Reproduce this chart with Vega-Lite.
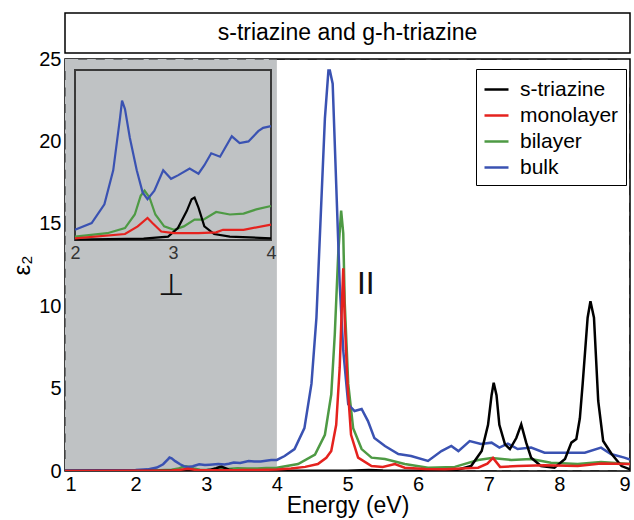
{
  "$schema": "https://vega.github.io/schema/vega-lite/v6.json",
  "padding": {"left": 10, "top": 12, "right": 0, "bottom": 0},
  "background": "white",
  "bounds": "flush",
  "spacing": 6,
  "config": {
    "view": {"stroke": "black", "strokeWidth": 1.5},
    "style": {"cell": {"stroke": "black", "strokeWidth": 1.5}},
    "font": "Liberation Sans",
    "axis": {"grid": false, "domain": false, "labelFont": "Liberation Sans", "titleFont": "Liberation Sans", "labelColor": "black", "titleColor": "black", "titleFontWeight": "normal"}
  },
  "datasets": {
    "xMajor": [{"v": 2}, {"v": 3}, {"v": 4}, {"v": 5}, {"v": 6}, {"v": 7}, {"v": 8}],
    "xMinor": [{"v": 1.25}, {"v": 1.5}, {"v": 1.75}, {"v": 2.25}, {"v": 2.5}, {"v": 2.75}, {"v": 3.25}, {"v": 3.5}, {"v": 3.75}, {"v": 4.25}, {"v": 4.5}, {"v": 4.75}, {"v": 5.25}, {"v": 5.5}, {"v": 5.75}, {"v": 6.25}, {"v": 6.5}, {"v": 6.75}, {"v": 7.25}, {"v": 7.5}, {"v": 7.75}, {"v": 8.25}, {"v": 8.5}, {"v": 8.75}],
    "yMajor": [{"v": 5}, {"v": 10}, {"v": 15}, {"v": 20}],
    "yMinor": [{"v": 1}, {"v": 2}, {"v": 3}, {"v": 4}, {"v": 6}, {"v": 7}, {"v": 8}, {"v": 9}, {"v": 11}, {"v": 12}, {"v": 13}, {"v": 14}, {"v": 16}, {"v": 17}, {"v": 18}, {"v": 19}, {"v": 21}, {"v": 22}, {"v": 23}, {"v": 24}],
    "insetX": [{"v": 2.25}, {"v": 2.5}, {"v": 2.75}, {"v": 3}, {"v": 3.25}, {"v": 3.5}, {"v": 3.75}],
    "insetY": [{"v": 0.1}, {"v": 0.2}, {"v": 0.3}, {"v": 0.4}, {"v": 0.5}, {"v": 0.6}, {"v": 0.7}, {"v": 0.8}, {"v": 0.9}],
    "spectra": [
      {"series": "s-triazine", "x": 1.0, "y": 0},
      {"series": "s-triazine", "x": 2.0, "y": 0.003},
      {"series": "s-triazine", "x": 2.7, "y": 0.008},
      {"series": "s-triazine", "x": 2.95, "y": 0.02},
      {"series": "s-triazine", "x": 3.05, "y": 0.07},
      {"series": "s-triazine", "x": 3.14, "y": 0.17},
      {"series": "s-triazine", "x": 3.19, "y": 0.24},
      {"series": "s-triazine", "x": 3.22, "y": 0.25},
      {"series": "s-triazine", "x": 3.26, "y": 0.19},
      {"series": "s-triazine", "x": 3.32, "y": 0.08},
      {"series": "s-triazine", "x": 3.42, "y": 0.035},
      {"series": "s-triazine", "x": 3.58, "y": 0.02},
      {"series": "s-triazine", "x": 4.0, "y": 0.01},
      {"series": "s-triazine", "x": 4.5, "y": 0.01},
      {"series": "s-triazine", "x": 5.0, "y": 0.02},
      {"series": "s-triazine", "x": 5.3, "y": 0.06},
      {"series": "s-triazine", "x": 5.5, "y": 0.03},
      {"series": "s-triazine", "x": 6.0, "y": 0.01},
      {"series": "s-triazine", "x": 6.3, "y": 0.02},
      {"series": "s-triazine", "x": 6.56, "y": 0.08},
      {"series": "s-triazine", "x": 6.75, "y": 0.3},
      {"series": "s-triazine", "x": 6.9, "y": 1.21},
      {"series": "s-triazine", "x": 6.99, "y": 2.8},
      {"series": "s-triazine", "x": 7.04, "y": 4.6},
      {"series": "s-triazine", "x": 7.07, "y": 5.36},
      {"series": "s-triazine", "x": 7.11, "y": 4.6},
      {"series": "s-triazine", "x": 7.15, "y": 2.8},
      {"series": "s-triazine", "x": 7.23, "y": 1.62},
      {"series": "s-triazine", "x": 7.3, "y": 1.33},
      {"series": "s-triazine", "x": 7.39, "y": 2.0},
      {"series": "s-triazine", "x": 7.46, "y": 2.83},
      {"series": "s-triazine", "x": 7.53, "y": 1.72},
      {"series": "s-triazine", "x": 7.6, "y": 0.81},
      {"series": "s-triazine", "x": 7.74, "y": 0.3},
      {"series": "s-triazine", "x": 7.93, "y": 0.2},
      {"series": "s-triazine", "x": 8.08, "y": 0.73},
      {"series": "s-triazine", "x": 8.17, "y": 1.72},
      {"series": "s-triazine", "x": 8.24, "y": 1.94},
      {"series": "s-triazine", "x": 8.29, "y": 3.2},
      {"series": "s-triazine", "x": 8.33, "y": 5.3},
      {"series": "s-triazine", "x": 8.4, "y": 9.3},
      {"series": "s-triazine", "x": 8.44, "y": 10.3},
      {"series": "s-triazine", "x": 8.49, "y": 9.3},
      {"series": "s-triazine", "x": 8.55, "y": 4.25},
      {"series": "s-triazine", "x": 8.62, "y": 1.82},
      {"series": "s-triazine", "x": 8.74, "y": 1.03},
      {"series": "s-triazine", "x": 8.88, "y": 0.3},
      {"series": "s-triazine", "x": 9.0, "y": 0.1},

      {"series": "monolayer", "x": 1.0, "y": 0.003},
      {"series": "monolayer", "x": 2.0, "y": 0.01},
      {"series": "monolayer", "x": 2.51, "y": 0.035},
      {"series": "monolayer", "x": 2.64, "y": 0.08},
      {"series": "monolayer", "x": 2.74, "y": 0.13},
      {"series": "monolayer", "x": 2.79, "y": 0.1},
      {"series": "monolayer", "x": 2.88, "y": 0.05},
      {"series": "monolayer", "x": 3.01, "y": 0.04},
      {"series": "monolayer", "x": 3.26, "y": 0.04},
      {"series": "monolayer", "x": 3.44, "y": 0.045},
      {"series": "monolayer", "x": 3.51, "y": 0.06},
      {"series": "monolayer", "x": 3.72, "y": 0.06},
      {"series": "monolayer", "x": 4.0, "y": 0.09},
      {"series": "monolayer", "x": 4.2, "y": 0.15},
      {"series": "monolayer", "x": 4.4, "y": 0.25},
      {"series": "monolayer", "x": 4.58, "y": 0.42},
      {"series": "monolayer", "x": 4.7, "y": 0.8},
      {"series": "monolayer", "x": 4.77, "y": 1.21},
      {"series": "monolayer", "x": 4.84, "y": 2.8},
      {"series": "monolayer", "x": 4.89, "y": 6.3},
      {"series": "monolayer", "x": 4.92, "y": 10.0},
      {"series": "monolayer", "x": 4.94, "y": 12.3},
      {"series": "monolayer", "x": 4.96, "y": 9.3},
      {"series": "monolayer", "x": 5.0, "y": 5.3},
      {"series": "monolayer", "x": 5.05, "y": 2.2},
      {"series": "monolayer", "x": 5.15, "y": 0.81},
      {"series": "monolayer", "x": 5.34, "y": 0.3},
      {"series": "monolayer", "x": 5.5, "y": 0.25},
      {"series": "monolayer", "x": 5.67, "y": 0.42},
      {"series": "monolayer", "x": 5.81, "y": 0.2},
      {"series": "monolayer", "x": 6.1, "y": 0.12},
      {"series": "monolayer", "x": 6.38, "y": 0.1},
      {"series": "monolayer", "x": 6.85, "y": 0.2},
      {"series": "monolayer", "x": 6.98, "y": 0.45},
      {"series": "monolayer", "x": 7.06, "y": 0.79},
      {"series": "monolayer", "x": 7.16, "y": 0.25},
      {"series": "monolayer", "x": 7.41, "y": 0.3},
      {"series": "monolayer", "x": 7.79, "y": 0.35},
      {"series": "monolayer", "x": 8.26, "y": 0.3},
      {"series": "monolayer", "x": 8.59, "y": 0.45},
      {"series": "monolayer", "x": 9.0, "y": 0.42},

      {"series": "bilayer", "x": 1.0, "y": 0.005},
      {"series": "bilayer", "x": 2.0, "y": 0.02},
      {"series": "bilayer", "x": 2.33, "y": 0.04},
      {"series": "bilayer", "x": 2.51, "y": 0.07},
      {"series": "bilayer", "x": 2.61, "y": 0.15},
      {"series": "bilayer", "x": 2.67, "y": 0.26},
      {"series": "bilayer", "x": 2.71, "y": 0.29},
      {"series": "bilayer", "x": 2.76, "y": 0.25},
      {"series": "bilayer", "x": 2.82, "y": 0.15},
      {"series": "bilayer", "x": 2.91, "y": 0.08},
      {"series": "bilayer", "x": 3.01, "y": 0.06},
      {"series": "bilayer", "x": 3.11, "y": 0.08},
      {"series": "bilayer", "x": 3.22, "y": 0.12},
      {"series": "bilayer", "x": 3.31, "y": 0.12},
      {"series": "bilayer", "x": 3.44, "y": 0.165},
      {"series": "bilayer", "x": 3.58, "y": 0.15},
      {"series": "bilayer", "x": 3.72, "y": 0.155},
      {"series": "bilayer", "x": 3.85, "y": 0.18},
      {"series": "bilayer", "x": 4.0, "y": 0.2},
      {"series": "bilayer", "x": 4.3, "y": 0.42},
      {"series": "bilayer", "x": 4.54, "y": 1.0},
      {"series": "bilayer", "x": 4.68, "y": 2.2},
      {"series": "bilayer", "x": 4.77, "y": 4.65},
      {"series": "bilayer", "x": 4.82, "y": 8.3},
      {"series": "bilayer", "x": 4.87, "y": 13.3},
      {"series": "bilayer", "x": 4.91, "y": 15.8},
      {"series": "bilayer", "x": 4.94, "y": 14.4},
      {"series": "bilayer", "x": 4.96, "y": 10.3},
      {"series": "bilayer", "x": 5.01, "y": 5.3},
      {"series": "bilayer", "x": 5.08, "y": 2.6},
      {"series": "bilayer", "x": 5.2, "y": 1.33},
      {"series": "bilayer", "x": 5.34, "y": 0.81},
      {"series": "bilayer", "x": 5.53, "y": 0.73},
      {"series": "bilayer", "x": 5.81, "y": 0.42},
      {"series": "bilayer", "x": 6.14, "y": 0.2},
      {"series": "bilayer", "x": 6.52, "y": 0.25},
      {"series": "bilayer", "x": 6.85, "y": 0.67},
      {"series": "bilayer", "x": 7.04, "y": 0.79},
      {"series": "bilayer", "x": 7.32, "y": 0.67},
      {"series": "bilayer", "x": 7.6, "y": 0.73},
      {"series": "bilayer", "x": 7.88, "y": 0.5},
      {"series": "bilayer", "x": 8.26, "y": 0.42},
      {"series": "bilayer", "x": 8.59, "y": 0.55},
      {"series": "bilayer", "x": 9.0, "y": 0.42},

      {"series": "bulk", "x": 1.0, "y": 0.03},
      {"series": "bulk", "x": 1.5, "y": 0.04},
      {"series": "bulk", "x": 2.0, "y": 0.06},
      {"series": "bulk", "x": 2.17, "y": 0.1},
      {"series": "bulk", "x": 2.3, "y": 0.21},
      {"series": "bulk", "x": 2.39, "y": 0.41},
      {"series": "bulk", "x": 2.46, "y": 0.72},
      {"series": "bulk", "x": 2.48, "y": 0.82},
      {"series": "bulk", "x": 2.51, "y": 0.77},
      {"series": "bulk", "x": 2.56, "y": 0.6},
      {"series": "bulk", "x": 2.63, "y": 0.41},
      {"series": "bulk", "x": 2.69, "y": 0.28},
      {"series": "bulk", "x": 2.74, "y": 0.24},
      {"series": "bulk", "x": 2.81, "y": 0.29},
      {"series": "bulk", "x": 2.9, "y": 0.41},
      {"series": "bulk", "x": 2.98, "y": 0.36},
      {"series": "bulk", "x": 3.05, "y": 0.38},
      {"series": "bulk", "x": 3.17, "y": 0.42},
      {"series": "bulk", "x": 3.26, "y": 0.39},
      {"series": "bulk", "x": 3.32, "y": 0.44},
      {"series": "bulk", "x": 3.39, "y": 0.51},
      {"series": "bulk", "x": 3.48, "y": 0.49},
      {"series": "bulk", "x": 3.6, "y": 0.61},
      {"series": "bulk", "x": 3.68, "y": 0.57},
      {"series": "bulk", "x": 3.77, "y": 0.58},
      {"series": "bulk", "x": 3.87, "y": 0.64},
      {"series": "bulk", "x": 3.92, "y": 0.66},
      {"series": "bulk", "x": 4.0, "y": 0.67},
      {"series": "bulk", "x": 4.11, "y": 0.91},
      {"series": "bulk", "x": 4.25, "y": 1.33},
      {"series": "bulk", "x": 4.39, "y": 2.6},
      {"series": "bulk", "x": 4.49, "y": 5.3},
      {"series": "bulk", "x": 4.56, "y": 9.3},
      {"series": "bulk", "x": 4.63, "y": 16.4},
      {"series": "bulk", "x": 4.68, "y": 21.4},
      {"series": "bulk", "x": 4.73, "y": 24.3},
      {"series": "bulk", "x": 4.75, "y": 24.3},
      {"series": "bulk", "x": 4.79, "y": 23.5},
      {"series": "bulk", "x": 4.84, "y": 17.4},
      {"series": "bulk", "x": 4.89, "y": 11.3},
      {"series": "bulk", "x": 4.94, "y": 7.3},
      {"series": "bulk", "x": 5.01, "y": 4.05},
      {"series": "bulk", "x": 5.1, "y": 3.64},
      {"series": "bulk", "x": 5.2, "y": 3.76},
      {"series": "bulk", "x": 5.29, "y": 3.03},
      {"series": "bulk", "x": 5.38, "y": 2.0},
      {"series": "bulk", "x": 5.53, "y": 1.52},
      {"series": "bulk", "x": 5.72, "y": 1.03},
      {"series": "bulk", "x": 5.9, "y": 0.91},
      {"series": "bulk", "x": 6.14, "y": 0.61},
      {"series": "bulk", "x": 6.33, "y": 1.21},
      {"series": "bulk", "x": 6.47, "y": 1.52},
      {"series": "bulk", "x": 6.57, "y": 1.21},
      {"series": "bulk", "x": 6.73, "y": 1.82},
      {"series": "bulk", "x": 6.89, "y": 1.64},
      {"series": "bulk", "x": 7.04, "y": 1.72},
      {"series": "bulk", "x": 7.15, "y": 1.42},
      {"series": "bulk", "x": 7.27, "y": 1.66},
      {"series": "bulk", "x": 7.41, "y": 1.33},
      {"series": "bulk", "x": 7.6, "y": 1.42},
      {"series": "bulk", "x": 7.79, "y": 1.11},
      {"series": "bulk", "x": 8.02, "y": 1.11},
      {"series": "bulk", "x": 8.36, "y": 1.11},
      {"series": "bulk", "x": 8.59, "y": 1.42},
      {"series": "bulk", "x": 8.73, "y": 1.03},
      {"series": "bulk", "x": 8.92, "y": 0.81},
      {"series": "bulk", "x": 9.0, "y": 0.7}
    ]
  },
  "vconcat": [
    {
      "width": 565,
      "height": 40,
      "view": {"stroke": "black", "strokeWidth": 1.5},
      "data": {"values": [{"label": "s-triazine and g-h-triazine"}]},
      "mark": {"type": "text", "fontSize": 23, "font": "Liberation Sans", "color": "black"},
      "encoding": {"text": {"field": "label"}}
    },
    {
      "width": 565,
      "height": 412,
      "view": {"stroke": "black", "strokeWidth": 1.5},
      "resolve": {"scale": {"x": "independent", "y": "independent"}},
      "layer": [
        {
          "data": {"values": [{"start": 1, "end": 4, "low": 0, "high": 25}]},
          "mark": {"type": "rect", "fill": "#bfc2c4"},
          "encoding": {
            "x": {"field": "start", "type": "quantitative", "scale": {"domain": [1, 9], "nice": false, "zero": false},
                  "axis": {"orient": "bottom", "zindex": 1, "values": [1,2,3,4,5,6,7,8,9], "ticks": false, "labelPadding": 3, "labelFontSize": 20, "title": "Energy (eV)", "titleFontSize": 23, "titlePadding": 0}},
            "x2": {"field": "end"},
            "y": {"field": "low", "type": "quantitative", "scale": {"domain": [0, 25], "nice": false},
                  "axis": {"orient": "left", "zindex": 1, "values": [0,5,10,15,20,25], "ticks": false, "labelPadding": 4, "labelFontSize": 20, "title": "ε₂", "titleFontSize": 24, "titlePadding": 4}},
            "y2": {"field": "high"}
          }
        },
        {
          "data": {"name": "xMajor"},
          "mark": {"type": "tick", "orient": "horizontal", "size": 16, "thickness": 1.4, "color": "black", "clip": true},
          "encoding": {
            "x": {"field": "v", "type": "quantitative", "scale": {"domain": [1, 9], "nice": false, "zero": false}, "axis": null},
            "y": {"datum": 0, "type": "quantitative", "scale": {"domain": [0, 25], "nice": false}, "axis": null}
          }
        },
        {
          "data": {"name": "xMajor"},
          "mark": {"type": "tick", "orient": "horizontal", "size": 16, "thickness": 1.4, "color": "black", "clip": true},
          "encoding": {
            "x": {"field": "v", "type": "quantitative", "scale": {"domain": [1, 9], "nice": false, "zero": false}, "axis": null},
            "y": {"datum": 25, "type": "quantitative", "scale": {"domain": [0, 25], "nice": false}, "axis": null}
          }
        },
        {
          "data": {"name": "xMinor"},
          "mark": {"type": "tick", "orient": "horizontal", "size": 9, "thickness": 1.2, "color": "black", "clip": true},
          "encoding": {
            "x": {"field": "v", "type": "quantitative", "scale": {"domain": [1, 9], "nice": false, "zero": false}, "axis": null},
            "y": {"datum": 0, "type": "quantitative", "scale": {"domain": [0, 25], "nice": false}, "axis": null}
          }
        },
        {
          "data": {"name": "xMinor"},
          "mark": {"type": "tick", "orient": "horizontal", "size": 9, "thickness": 1.2, "color": "black", "clip": true},
          "encoding": {
            "x": {"field": "v", "type": "quantitative", "scale": {"domain": [1, 9], "nice": false, "zero": false}, "axis": null},
            "y": {"datum": 25, "type": "quantitative", "scale": {"domain": [0, 25], "nice": false}, "axis": null}
          }
        },
        {
          "data": {"name": "yMajor"},
          "mark": {"type": "tick", "orient": "vertical", "size": 16, "thickness": 1.4, "color": "black", "clip": true},
          "encoding": {
            "y": {"field": "v", "type": "quantitative", "scale": {"domain": [0, 25], "nice": false}, "axis": null},
            "x": {"datum": 1, "type": "quantitative", "scale": {"domain": [1, 9], "nice": false, "zero": false}, "axis": null}
          }
        },
        {
          "data": {"name": "yMajor"},
          "mark": {"type": "tick", "orient": "vertical", "size": 16, "thickness": 1.4, "color": "black", "clip": true},
          "encoding": {
            "y": {"field": "v", "type": "quantitative", "scale": {"domain": [0, 25], "nice": false}, "axis": null},
            "x": {"datum": 9, "type": "quantitative", "scale": {"domain": [1, 9], "nice": false, "zero": false}, "axis": null}
          }
        },
        {
          "data": {"name": "yMinor"},
          "mark": {"type": "tick", "orient": "vertical", "size": 9, "thickness": 1.2, "color": "black", "clip": true},
          "encoding": {
            "y": {"field": "v", "type": "quantitative", "scale": {"domain": [0, 25], "nice": false}, "axis": null},
            "x": {"datum": 1, "type": "quantitative", "scale": {"domain": [1, 9], "nice": false, "zero": false}, "axis": null}
          }
        },
        {
          "data": {"name": "yMinor"},
          "mark": {"type": "tick", "orient": "vertical", "size": 9, "thickness": 1.2, "color": "black", "clip": true},
          "encoding": {
            "y": {"field": "v", "type": "quantitative", "scale": {"domain": [0, 25], "nice": false}, "axis": null},
            "x": {"datum": 9, "type": "quantitative", "scale": {"domain": [1, 9], "nice": false, "zero": false}, "axis": null}
          }
        },
        {
          "data": {"name": "spectra"},
          "transform": [{"filter": "datum.series === 'bulk' || datum.series === 'bilayer'"}],
          "mark": {"type": "line", "strokeWidth": 2.5, "clip": true},
          "encoding": {
            "x": {"field": "x", "type": "quantitative", "scale": {"domain": [1, 9], "nice": false, "zero": false}, "axis": null},
            "y": {"field": "y", "type": "quantitative", "scale": {"domain": [0, 25], "nice": false}, "axis": null},
            "color": {"field": "series", "type": "nominal",
                      "scale": {"domain": ["s-triazine", "monolayer", "bilayer", "bulk"], "range": ["#000000", "#e5221e", "#4e9a44", "#3a52b2"]},
                      "legend": {"orient": "none", "legendX": 411, "legendY": 56, "title": null, "symbolType": "stroke", "symbolStrokeWidth": 2.5, "symbolSize": 576, "labelOffset": 10, "labelFontSize": 21, "labelFont": "Liberation Sans", "labelColor": "black", "strokeColor": "black", "padding": 7, "rowPadding": 2, "fillColor": "white"}},
            "order": {"field": "x", "type": "quantitative"}
          }
        },
        {
          "data": {"name": "spectra"},
          "transform": [{"filter": "datum.series === 's-triazine' || datum.series === 'monolayer'"}],
          "mark": {"type": "line", "strokeWidth": 2.5, "clip": true},
          "encoding": {
            "x": {"field": "x", "type": "quantitative", "scale": {"domain": [1, 9], "nice": false, "zero": false}, "axis": null},
            "y": {"field": "y", "type": "quantitative", "scale": {"domain": [0, 25], "nice": false}, "axis": null},
            "color": {"field": "series", "type": "nominal", "legend": null},
            "order": {"field": "x", "type": "quantitative"}
          }
        },
        {
          "data": {"values": [{"label": "II", "energy": 5.26, "eps": 11.3}, {"label": "⊥", "energy": 2.5, "eps": 11.2}]},
          "mark": {"type": "text", "fontSize": 30, "font": "DejaVu Sans", "color": "#111111"},
          "encoding": {
            "x": {"field": "energy", "type": "quantitative", "scale": {"domain": [1, 9], "nice": false, "zero": false}, "axis": null},
            "y": {"field": "eps", "type": "quantitative", "scale": {"domain": [0, 25], "nice": false}, "axis": null},
            "text": {"field": "label"}
          }
        },
        {
          "data": {"values": [{"start": 2, "end": 4, "low": 0, "high": 1}]},
          "mark": {"type": "rect", "fill": "#bfc2c4", "stroke": "#3a3a3a", "strokeWidth": 2},
          "encoding": {
            "x": {"field": "start", "type": "quantitative", "scale": {"domain": [2, 4], "range": [10, 206], "nice": false, "zero": false},
                  "axis": {"orient": "bottom", "zindex": 1, "offset": -231, "values": [2,2.5,3,3.5,4], "labelExpr": "datum.value % 1 === 0 ? format(datum.value, 'd') : ''", "ticks": false, "labelPadding": 4, "labelFontSize": 18, "labelColor": "#333333", "labelFlush": false, "title": null}},
            "x2": {"field": "end"},
            "y": {"field": "low", "type": "quantitative", "scale": {"domain": [0, 1], "range": [181, 11], "nice": false}, "axis": null},
            "y2": {"field": "high"}
          }
        },
        {
          "data": {"name": "insetX"},
          "mark": {"type": "tick", "orient": "horizontal", "size": 9, "thickness": 1.2, "color": "#3a3a3a"},
          "encoding": {
            "x": {"field": "v", "type": "quantitative", "scale": {"domain": [2, 4], "range": [10, 206], "nice": false, "zero": false}, "axis": null},
            "y": {"datum": 0, "type": "quantitative", "scale": {"domain": [0, 1], "range": [181, 11], "nice": false}, "axis": null}
          }
        },
        {
          "data": {"name": "insetX"},
          "mark": {"type": "tick", "orient": "horizontal", "size": 9, "thickness": 1.2, "color": "#3a3a3a"},
          "encoding": {
            "x": {"field": "v", "type": "quantitative", "scale": {"domain": [2, 4], "range": [10, 206], "nice": false, "zero": false}, "axis": null},
            "y": {"datum": 1, "type": "quantitative", "scale": {"domain": [0, 1], "range": [181, 11], "nice": false}, "axis": null}
          }
        },
        {
          "data": {"name": "insetY"},
          "mark": {"type": "tick", "orient": "vertical", "size": 9, "thickness": 1.2, "color": "#3a3a3a"},
          "encoding": {
            "y": {"field": "v", "type": "quantitative", "scale": {"domain": [0, 1], "range": [181, 11], "nice": false}, "axis": null},
            "x": {"datum": 2, "type": "quantitative", "scale": {"domain": [2, 4], "range": [10, 206], "nice": false, "zero": false}, "axis": null}
          }
        },
        {
          "data": {"name": "insetY"},
          "mark": {"type": "tick", "orient": "vertical", "size": 9, "thickness": 1.2, "color": "#3a3a3a"},
          "encoding": {
            "y": {"field": "v", "type": "quantitative", "scale": {"domain": [0, 1], "range": [181, 11], "nice": false}, "axis": null},
            "x": {"datum": 4, "type": "quantitative", "scale": {"domain": [2, 4], "range": [10, 206], "nice": false, "zero": false}, "axis": null}
          }
        },
        {
          "data": {"name": "spectra"},
          "transform": [{"filter": "datum.x >= 2 && datum.x <= 4 && (datum.series === 'bulk' || datum.series === 'bilayer')"}],
          "mark": {"type": "line", "strokeWidth": 2.2},
          "encoding": {
            "x": {"field": "x", "type": "quantitative", "scale": {"domain": [2, 4], "range": [10, 206], "nice": false, "zero": false}, "axis": null},
            "y": {"field": "y", "type": "quantitative", "scale": {"domain": [0, 1], "range": [181, 11], "nice": false}, "axis": null},
            "color": {"field": "series", "type": "nominal", "legend": null},
            "order": {"field": "x", "type": "quantitative"}
          }
        },
        {
          "data": {"name": "spectra"},
          "transform": [{"filter": "datum.x >= 2 && datum.x <= 4 && (datum.series === 's-triazine' || datum.series === 'monolayer')"}],
          "mark": {"type": "line", "strokeWidth": 2.2},
          "encoding": {
            "x": {"field": "x", "type": "quantitative", "scale": {"domain": [2, 4], "range": [10, 206], "nice": false, "zero": false}, "axis": null},
            "y": {"field": "y", "type": "quantitative", "scale": {"domain": [0, 1], "range": [181, 11], "nice": false}, "axis": null},
            "color": {"field": "series", "type": "nominal", "legend": null},
            "order": {"field": "x", "type": "quantitative"}
          }
        }
      ]
    }
  ]
}
